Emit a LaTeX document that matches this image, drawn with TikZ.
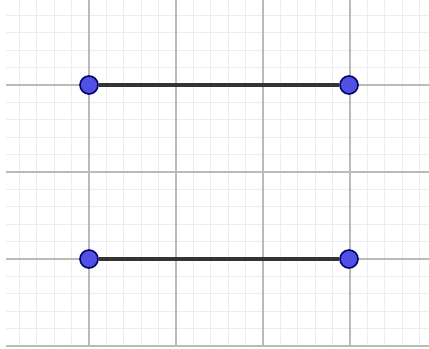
\documentclass[tikz,border=0pt]{standalone}
\begin{document}
\begin{tikzpicture}[x=0.02cm,y=-0.02cm,
  minorgrid/.style={draw=black!7,line width=0.5pt},
  majorgrid/.style={draw=black!27,line width=0.7pt},
  pt/.style={circle,fill=blue!65!white!90!black,draw=blue!40!black,line width=0.9pt,minimum size=0.36cm,inner sep=0pt},
  seg/.style={draw=black!80,line width=1.9pt}]
\fill[white] (0,0) rectangle (429,348);
\useasboundingbox (0,0) rectangle (429,348);
\foreach \i in {1,...,25} {
  \draw[minorgrid] ({2+17.4*\i},0) -- ({2+17.4*\i},346);
}
\foreach \j in {1,...,20} {
  \draw[minorgrid] (6,{-2+17.4*\j}) -- (429,{-2+17.4*\j});
}
\foreach \i in {1,...,4} {
  \draw[majorgrid] ({2+87*\i},0) -- ({2+87*\i},346);
}
\foreach \j in {1,...,4} {
  \draw[majorgrid] (6,{-2+87*\j}) -- (429,{-2+87*\j});
}
\node[pt] (a) at (89,85) {};
\node[pt] (b) at (349,85) {};
\node[pt] (c) at (89,259) {};
\node[pt] (d) at (349,259) {};
\draw[seg] (a) -- (b);
\draw[seg] (c) -- (d);
\end{tikzpicture}
\end{document}
